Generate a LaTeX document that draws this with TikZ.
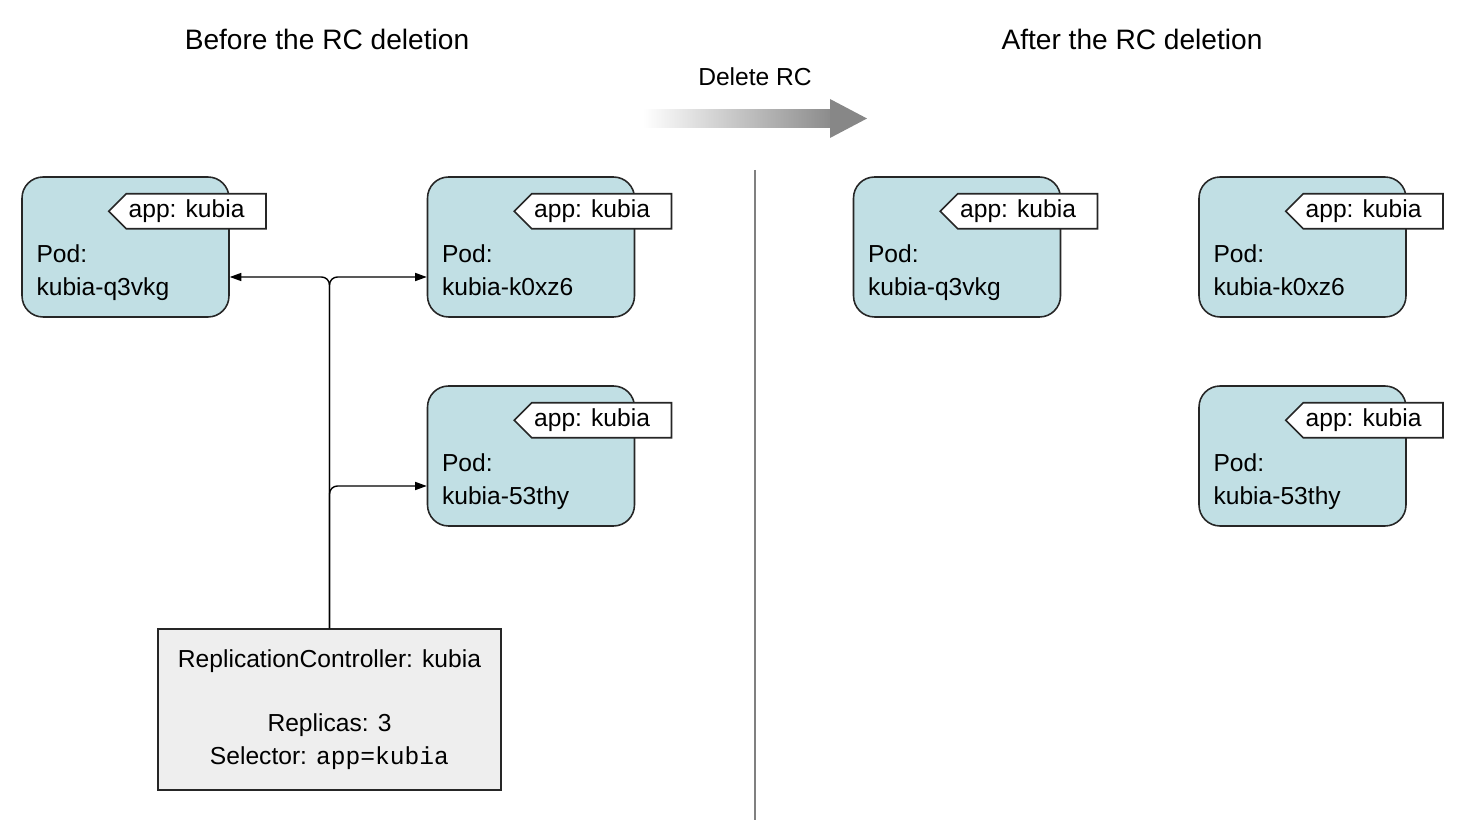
\documentclass[tikz,border=0pt]{standalone}
\usepackage{fontspec}
\setmainfont{Liberation Sans}
\setmonofont{Liberation Mono}
\usepackage{tikz}
\usetikzlibrary{shapes.symbols, arrows.meta, positioning, calc}
\definecolor{podblue}{RGB}{193,223,228}
\definecolor{rcgray}{RGB}{238,238,238}
\tikzstyle{pod} = [rectangle, rounded corners=0.42cm, minimum width=4.14cm, minimum height=2.8cm, draw=black!85, line width=0.9pt, fill=podblue]
\tikzstyle{tag} = [signal, signal to=west, signal pointer angle=90, minimum height=0.7cm, inner xsep=0.05cm, inner ysep=0pt, draw=black!85, line width=0.9pt, fill=white, execute at end node={\hspace*{0.38cm}}]
\tikzstyle{arrow} = [line width=0.8pt, rounded corners=0.16cm, -{Triangle[length=2.3mm, width=1.6mm]}]

\begin{document}
\begin{tikzpicture}[x=0.02cm, y=-0.02cm, font=\fontsize{14pt}{18.7pt}\selectfont]
    \tikzstyle{podtext} = [anchor=west, align=left, inner sep=0pt, text depth=3pt]
    \tikzstyle{title} = [font=\fontsize{16pt}{19pt}\selectfont]
    \useasboundingbox (0,0) rectangle (1468,820);

    % Titles
    \node[title] (before) at (327,39) {Before the RC deletion};
    \node[title] (after) at (1132,39) {After the RC deletion};
    \node (delrc) at (755,77) {Delete RC};

    % Delete arrow and divider
    \shade[left color=white, right color=black!45] (643,110) rectangle (830,128);
    \fill[black!47] (830,99) -- (867,118.5) -- (830,138) -- cycle;
    \draw[black!50, line width=1.1pt] (755,170) -- (755,820);

    % Pods before
    \node (pod1) [pod] at (125.5,247) {};
    \node (pod2) [pod] at (531,247) {};
    \node (pod3) [pod] at (531,456) {};
    \node (tag1) [tag, anchor=east] at ($(pod1.north east)+(37,35)$) {app: kubia};
    \node (tag2) [tag, anchor=east] at ($(pod2.north east)+(37,35)$) {app: kubia};
    \node (tag3) [tag, anchor=east] at ($(pod3.north east)+(37,35)$) {app: kubia};
    \node (txt1) [podtext] at ($(pod1.west)+(15,26)$) {Pod:\\kubia-q3vkg};
    \node (txt2) [podtext] at ($(pod2.west)+(15,26)$) {Pod:\\kubia-k0xz6};
    \node (txt3) [podtext] at ($(pod3.west)+(15,26)$) {Pod:\\kubia-53thy};

    % ReplicationController
    \node (rc) [rectangle, minimum width=6.86cm, minimum height=3.22cm, draw=black!85, line width=0.9pt, fill=rcgray, align=center] at (329.5,709.5)
        {ReplicationController: kubia\\[0.62cm]Replicas: 3\\Selector: \texttt{app=kubia}};

    % Arrows
    \draw[arrow] (rc.north) |- ($(pod1.east)+(0,30)$);
    \draw[arrow] (rc.north) |- ($(pod2.west)+(0,30)$);
    \draw[arrow] (rc.north) |- ($(pod3.west)+(0,30)$);

    % Pods after
    \node (pod4) [pod] at (957,247) {};
    \node (pod5) [pod] at (1302.5,247) {};
    \node (pod6) [pod] at (1302.5,456) {};
    \node (tag4) [tag, anchor=east] at ($(pod4.north east)+(37,35)$) {app: kubia};
    \node (tag5) [tag, anchor=east] at ($(pod5.north east)+(37,35)$) {app: kubia};
    \node (tag6) [tag, anchor=east] at ($(pod6.north east)+(37,35)$) {app: kubia};
    \node (txt4) [podtext] at ($(pod4.west)+(15,26)$) {Pod:\\kubia-q3vkg};
    \node (txt5) [podtext] at ($(pod5.west)+(15,26)$) {Pod:\\kubia-k0xz6};
    \node (txt6) [podtext] at ($(pod6.west)+(15,26)$) {Pod:\\kubia-53thy};

\end{tikzpicture}
\end{document}
